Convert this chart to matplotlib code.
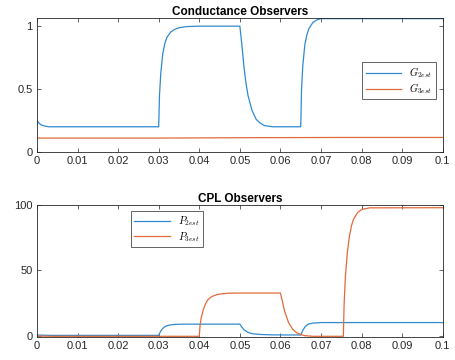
import numpy as np
import matplotlib
matplotlib.use('Agg')
import matplotlib.pyplot as plt

plt.rcParams['font.family'] = ['Liberation Sans', 'DejaVu Sans']
plt.rcParams['mathtext.fontset'] = 'cm'

# conductance observers (time in s)
t_g2 = [0, 0.0005, 0.001, 0.002, 0.003, 0.004, 0.03, 0.0302, 0.0305, 0.031, 0.0315,
        0.032, 0.033, 0.034, 0.035, 0.037, 0.04, 0.05, 0.0505, 0.051, 0.0515, 0.052,
        0.053, 0.054, 0.055, 0.056, 0.058, 0.065, 0.0652, 0.0655, 0.066, 0.0665,
        0.067, 0.068, 0.069, 0.07, 0.1]
g2 = [0.25, 0.23, 0.215, 0.205, 0.2, 0.2, 0.2, 0.45, 0.62, 0.78, 0.86,
      0.91, 0.955, 0.975, 0.988, 0.997, 1.0, 1.0, 0.85, 0.68, 0.55, 0.45,
      0.33, 0.26, 0.23, 0.21, 0.2, 0.2, 0.5, 0.68, 0.85, 0.93,
      0.98, 1.03, 1.05, 1.06, 1.06]
t_g3 = [0, 0.03, 0.05, 0.075, 0.1]
g3 = [0.11, 0.11, 0.113, 0.115, 0.115]

# CPL observers
t_p2 = [0, 0.002, 0.004, 0.03, 0.0305, 0.031, 0.0315, 0.032, 0.033, 0.034, 0.036,
        0.05, 0.0505, 0.051, 0.052, 0.053, 0.055, 0.058, 0.065, 0.0655, 0.066,
        0.0665, 0.067, 0.068, 0.069, 0.07, 0.1]
p2 = [0.5, 0.3, 0.2, 0.2, 3.5, 5.5, 6.8, 7.6, 8.3, 8.6, 8.8,
      8.8, 6.5, 4.5, 2.5, 1.5, 0.9, 0.6, 0.5, 4.0, 6.5,
      8.0, 8.9, 9.6, 9.8, 10.0, 10.0]
t_p3 = [0, 0.004, 0.04, 0.0402, 0.0405, 0.041, 0.0415, 0.042, 0.043, 0.044, 0.045,
        0.047, 0.05, 0.06, 0.0605, 0.061, 0.062, 0.063, 0.064, 0.065, 0.066, 0.068,
        0.0755, 0.0757, 0.076, 0.0765, 0.077, 0.0775, 0.078, 0.079, 0.08, 0.082, 0.1]
p3 = [-0.3, -0.5, -0.5, 8, 14, 20, 24, 27, 29.8, 31.0, 31.8,
      32.4, 32.6, 32.6, 26, 19, 10, 5, 2.2, 0.8, 0.0, -0.5,
      -0.5, 25, 45, 64, 76, 84, 89, 94, 96.5, 97.7, 97.8]

xticks = np.arange(0, 0.101, 0.01)
xlabels = ['0', '0.01', '0.02', '0.03', '0.04', '0.05', '0.06', '0.07', '0.08', '0.09', '0.1']

blue = '#2f8ad0'
orange = '#e06a3a'

fig = plt.figure(figsize=(4.56, 3.6), dpi=100)
ax1 = fig.add_axes([0.081, 0.578, 0.890, 0.372])
ax2 = fig.add_axes([0.081, 0.064, 0.890, 0.367])

def style(ax):
    ax.set_xlim(0, 0.1)
    ax.set_xticks(xticks)
    ax.set_xticklabels(xlabels)
    ax.tick_params(direction='in', top=True, right=True, length=3, width=0.5,
                   labelsize=8, colors='#262626', pad=3)
    for s in ax.spines.values():
        s.set_linewidth(0.6)
        s.set_color('#262626')

ax1.plot(t_g2, g2, color=blue, lw=0.9, label=r'$G_{2est}$')
ax1.plot(t_g3, g3, color=orange, lw=0.9, label=r'$G_{3est}$')
style(ax1)
ax1.set_ylim(0, 1.065)
ax1.set_yticks([0, 0.5, 1])
ax1.set_yticklabels(['0', '0.5', '1'])
ax1.set_title('Conductance Observers', fontsize=8.5, fontweight='bold', pad=2)
ax1.legend(loc='upper right', bbox_to_anchor=(0.995, 0.71), fontsize=7.5,
           fancybox=False, framealpha=1, edgecolor='#262626', handlelength=3.4,
           borderpad=0.3, labelspacing=0.15).get_frame().set_linewidth(0.5)

ax2.plot(t_p2, p2, color=blue, lw=0.9, label=r'$P_{2est}$')
ax2.plot(t_p3, p3, color=orange, lw=0.9, label=r'$P_{3est}$')
style(ax2)
ax2.set_ylim(-1, 100)
ax2.set_yticks([0, 50, 100])
ax2.set_title('CPL Observers', fontsize=8.5, fontweight='bold', pad=2)
ax2.legend(loc='upper left', bbox_to_anchor=(0.219, 0.99), fontsize=7.5,
           fancybox=False, framealpha=1, edgecolor='#262626', handlelength=3.4,
           borderpad=0.3, labelspacing=0.15).get_frame().set_linewidth(0.5)

plt.savefig('out.png', dpi=100)
